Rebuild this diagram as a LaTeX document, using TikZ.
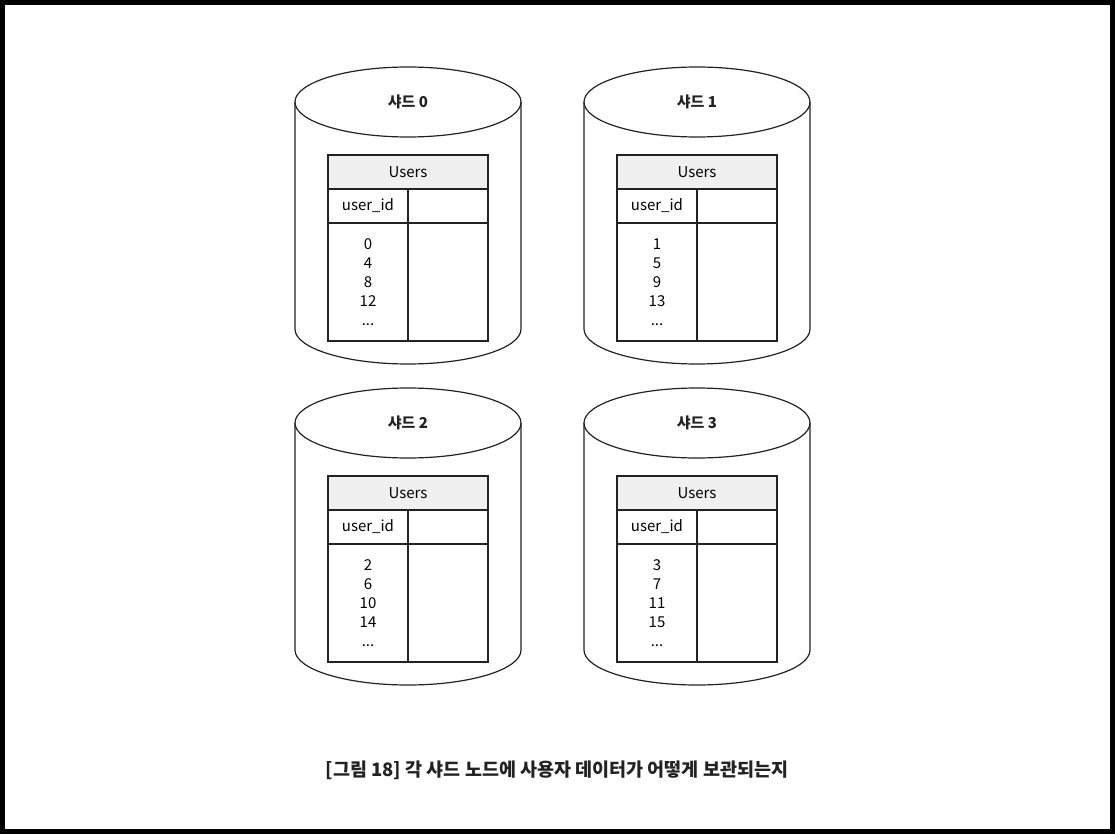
\documentclass[tikz,border=0pt]{standalone}
\usepackage{fontspec}
\setmainfont{Noto Sans CJK KR}
\usepackage{tikz}
\usetikzlibrary{positioning,calc}
\definecolor{ink}{HTML}{222222}
\definecolor{headgray}{HTML}{F0F0F0}
\tikzstyle{shard} = [draw=ink, line width=1.2pt]
\tikzstyle{title} = [text=ink, font=\fontsize{15pt}{18pt}\selectfont\bfseries]
\tikzstyle{head} = [draw=ink, line width=1.2pt, rectangle, text centered, fill=headgray, outer sep=0pt, minimum width=160pt, minimum height=34pt, font=\fontsize{15pt}{18pt}\selectfont]
\tikzstyle{cell} = [draw=ink, line width=1.2pt, rectangle, text centered, outer sep=0pt, minimum width=80pt, minimum height=34pt, font=\fontsize{15pt}{18pt}\selectfont]
\tikzstyle{rows} = [draw=ink, line width=1.2pt, rectangle, align=center, outer sep=0pt, minimum width=80pt, minimum height=118pt, font=\fontsize{15pt}{19pt}\selectfont]
\tikzstyle{caption} = [text=ink, font=\fontsize{18.5pt}{20pt}\selectfont\bfseries]

\begin{document}
\begin{tikzpicture}[x=1pt, y=1pt]
        \useasboundingbox (0,0) rectangle (1115,-834);
        \draw[line width=5pt] (2.5,-2.5) rectangle (1112.5,-831.5);
        % shard 0
        \node[title] (t0) at (408,-102) {샤드 0};
        \draw[shard] (t0.center) ellipse (113 and 35);
        \draw[shard] ($(t0.center)+(-113,0)$) -- ++(0,-227) arc[start angle=180, end angle=360, x radius=113, y radius=35] -- ++(0,227);
        \node[head] (h0) at (408,-172) {Users};
        \node[cell, below right=0pt and 0pt of h0.south west] (k0) {user\_id};
        \node[cell, right=0pt of k0] (v0) {};
        \node[rows, below=0pt of k0] (d0) {0\\4\\8\\12\\...};
        \node[rows, right=0pt of d0] (e0) {};
        % shard 1
        \node[title] (t1) at (697,-102) {샤드 1};
        \draw[shard] (t1.center) ellipse (113 and 35);
        \draw[shard] ($(t1.center)+(-113,0)$) -- ++(0,-227) arc[start angle=180, end angle=360, x radius=113, y radius=35] -- ++(0,227);
        \node[head] (h1) at (697,-172) {Users};
        \node[cell, below right=0pt and 0pt of h1.south west] (k1) {user\_id};
        \node[cell, right=0pt of k1] (v1) {};
        \node[rows, below=0pt of k1] (d1) {1\\5\\9\\13\\...};
        \node[rows, right=0pt of d1] (e1) {};
        % shard 2
        \node[title] (t2) at (408,-423) {샤드 2};
        \draw[shard] (t2.center) ellipse (113 and 35);
        \draw[shard] ($(t2.center)+(-113,0)$) -- ++(0,-227) arc[start angle=180, end angle=360, x radius=113, y radius=35] -- ++(0,227);
        \node[head] (h2) at (408,-493) {Users};
        \node[cell, below right=0pt and 0pt of h2.south west] (k2) {user\_id};
        \node[cell, right=0pt of k2] (v2) {};
        \node[rows, below=0pt of k2] (d2) {2\\6\\10\\14\\...};
        \node[rows, right=0pt of d2] (e2) {};
        % shard 3
        \node[title] (t3) at (697,-423) {샤드 3};
        \draw[shard] (t3.center) ellipse (113 and 35);
        \draw[shard] ($(t3.center)+(-113,0)$) -- ++(0,-227) arc[start angle=180, end angle=360, x radius=113, y radius=35] -- ++(0,227);
        \node[head] (h3) at (697,-493) {Users};
        \node[cell, below right=0pt and 0pt of h3.south west] (k3) {user\_id};
        \node[cell, right=0pt of k3] (v3) {};
        \node[rows, below=0pt of k3] (d3) {3\\7\\11\\15\\...};
        \node[rows, right=0pt of d3] (e3) {};
        % caption
        \node[caption] (cap) at (557,-770) {[그림 18] 각 샤드 노드에 사용자 데이터가 어떻게 보관되는지};
    \end{tikzpicture}
\end{document}
